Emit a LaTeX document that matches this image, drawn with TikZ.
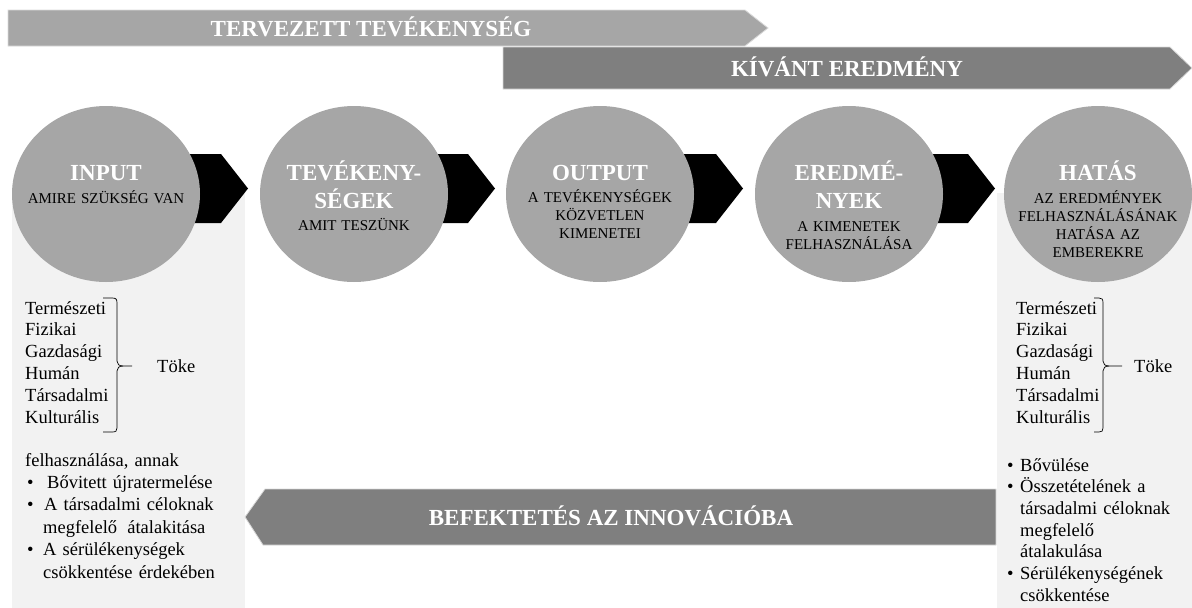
\documentclass[tikz,border=0pt]{standalone}
\usepackage{fontspec}
\setmainfont{Liberation Serif}
\usetikzlibrary{shapes.geometric}

\definecolor{stagegray}{HTML}{A6A6A6}
\definecolor{bandgray}{HTML}{7F7F7F}
\definecolor{panelgray}{HTML}{F2F2F2}
\definecolor{edgegray}{HTML}{D9D9D9}

% bullet with a hanging indent of #1
\newcommand\hangbullet[1]{\noindent\hangindent=#1\hangafter=1\hbox to #1{\hskip2pt\textbullet\hfil}}

\tikzset{
  stage/.style={ellipse, fill=stagegray, minimum width=188pt, minimum height=176pt, inner sep=0pt},
  chevron/.style={fill=black},
  panel/.style={fill=panelgray},
  band/.style={draw=edgegray, line width=0.8pt},
  bandtext/.style={text=white, font=\fontsize{23}{28}\selectfont\bfseries, inner sep=0pt, anchor=base},
  stagetitle/.style={text=white, font=\fontsize{23}{28}\selectfont\bfseries, inner sep=0pt,
    anchor=base, align=center, text width=180pt},
  stagesub/.style={text=black, font=\fontsize{15}{18}\selectfont, inner sep=0pt,
    anchor=base, align=center, text width=186pt},
  caplist/.style={font=\fontsize{18.5}{21.8}\selectfont, inner sep=0pt, anchor=base west,
    align=left, text width=110pt},
  brace/.style={draw=black, line width=0.7pt},
  itemlist/.style={font=\fontsize{18.5}{22.4}\selectfont, inner sep=0pt, anchor=base west,
    align=left},
}

\begin{document}
\begin{tikzpicture}[x=1pt, y=-1pt]
\useasboundingbox (0,0) rectangle (1192,608);

% side panels
\fill[panel] (12,190) rectangle (245,608);
\fill[panel] (997,193) rectangle (1192,608);

% top bands
\path[band, fill=stagegray] (8,10) -- (745,10) -- (768,28) -- (745,46) -- (8,46) -- cycle;
\node[bandtext] (planned) at (371,36) {TERVEZETT TEVÉKENYSÉG};
\path[band, fill=bandgray] (503,47) -- (1170,47) -- (1192,68) -- (1170,89) -- (503,89) -- cycle;
\node[bandtext] (desired) at (847,76) {KÍVÁNT EREDMÉNY};

% feedback band
\path[band, fill=bandgray] (996,489) -- (265,489) -- (245,517) -- (263,545) -- (996,545) -- cycle;
\node[bandtext] (invest) at (611,525) {BEFEKTETÉS AZ INNOVÁCIÓBA};

% stage centres
\coordinate (pin) at (106,194);
\coordinate (pact) at (354,194);
\coordinate (pout) at (600,194);
\coordinate (pres) at (849,194);
\coordinate (pimp) at (1098,194);

% chevrons between the stages
\fill[chevron] (106,154) -- (221,154) -- (248,188.5) -- (221,223) -- (106,223) -- cycle;
\fill[chevron] (354,154) -- (468,154) -- (495,188.5) -- (468,223) -- (354,223) -- cycle;
\fill[chevron] (600,154) -- (716,154) -- (743,188.5) -- (716,223) -- (600,223) -- cycle;
\fill[chevron] (849,154) -- (968,154) -- (995,188.5) -- (968,223) -- (849,223) -- cycle;

\node[stage] (cin) at (pin) {};
\node[stage] (cact) at (pact) {};
\node[stage] (cout) at (pout) {};
\node[stage] (cres) at (pres) {};
\node[stage] (cimp) at (pimp) {};

% stage texts
\node[stagetitle] (tin) at (106,180) {INPUT};
\node[stagesub] (sin) at (106,203) {AMIRE SZÜKSÉG VAN};

\node[stagetitle] (tact) at (354,180) {TEVÉKENY-\\SÉGEK};
\node[stagesub] (sact) at (354,230) {AMIT TESZÜNK};

\node[stagetitle] (tout) at (600,180) {OUTPUT};
\node[stagesub] (sout) at (600,202) {A TEVÉKENYSÉGEK\\KÖZVETLEN\\KIMENETEI};

\node[stagetitle] (tres) at (849,180) {EREDMÉ-\\NYEK};
\node[stagesub] (sres) at (849,231) {A KIMENETEK\\FELHASZNÁLÁSA};

\node[stagetitle] (timp) at (1098,180) {HATÁS};
\node[stagesub] (simp) at (1098,203) {AZ EREDMÉNYEK\\FELHASZNÁLÁSÁNAK\\HATÁSA AZ\\EMBEREKRE};

% left column: capital types
\node[caplist] (lcap) at (25,314) {Természeti\\Fizikai\\Gazdasági\\Humán\\Társadalmi\\Kulturális};
\draw[brace] (103,298) -- (112,298) .. controls (116,298) and (117,299) .. (117,303)
  -- (117,361) .. controls (117,364) and (119,366) .. (123,366) -- (132,366);
\draw[brace] (123,366) .. controls (119,366) and (117,368) .. (117,371)
  -- (117,428) .. controls (117,431) and (116,432) .. (112,432) -- (103,432);
\node[caplist, text width=60pt] (ltoke) at (157,372) {Töke};

\node[itemlist, text width=218pt] (luse) at (25,466) {felhasználása, annak\par
\hangbullet{18pt}\hspace{4pt}Bővitett újratermelése\par
\hangbullet{18pt}\hspace{1pt}A társadalmi céloknak\newline megfelelő\hspace{4pt} átalakitása\par
\hangbullet{18pt}A sérülékenységek\newline csökkentése érdekében\par};

% right column: capital types
\node[caplist] (rcap) at (1016,314) {Természeti\\Fizikai\\Gazdasági\\Humán\\Társadalmi\\Kulturális};
\draw[brace] (1094,298) -- (1099,298) .. controls (1102,298) and (1103,299) .. (1103,303)
  -- (1103,361) .. controls (1103,364) and (1105,366) .. (1109,366) -- (1122,366);
\draw[brace] (1109,366) .. controls (1105,366) and (1103,368) .. (1103,371)
  -- (1103,428) .. controls (1103,431) and (1102,432) .. (1099,432) -- (1094,432);
\node[caplist, text width=55pt] (rtoke) at (1134,372) {Töke};

\node[itemlist, font=\fontsize{18.5}{21.7}\selectfont, text width=186pt] (rgrow) at (1005,471) {%
\hangbullet{15pt}Bővülése\par
\hangbullet{15pt}Összetételének a\newline társadalmi céloknak\newline megfelelő\newline átalakulása\par
\hangbullet{15pt}Sérülékenységének\newline csökkentése\par};

\end{tikzpicture}
\end{document}
